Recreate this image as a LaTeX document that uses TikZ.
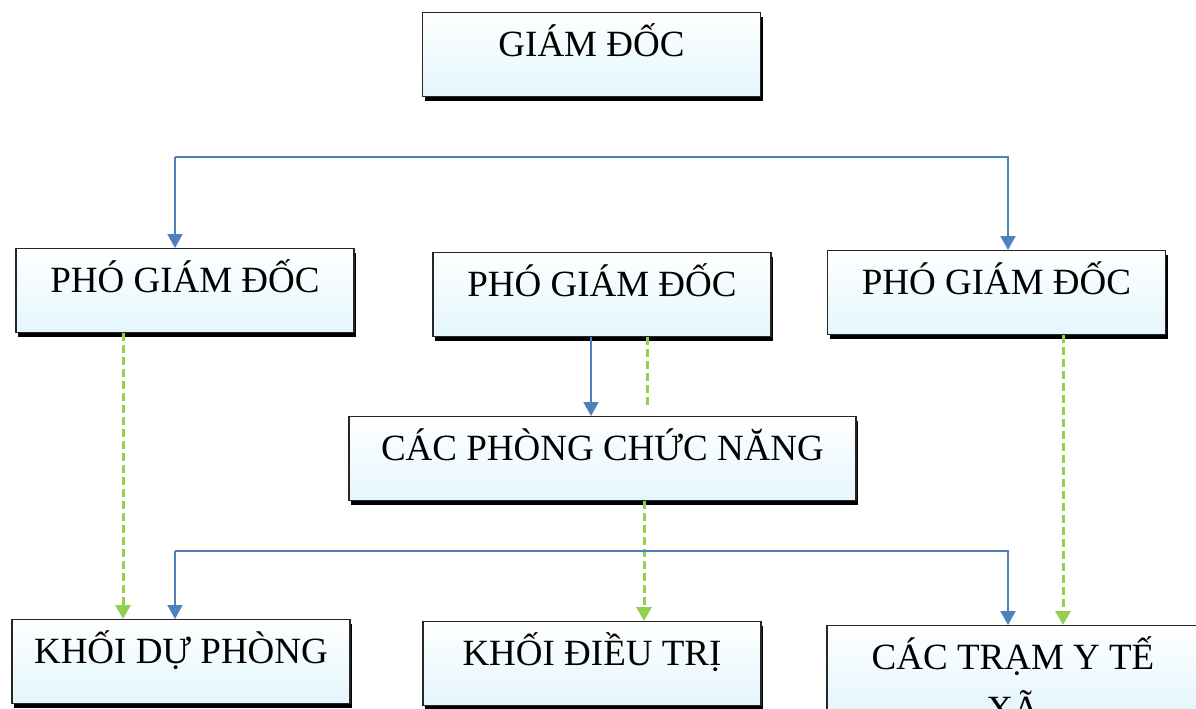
\documentclass[tikz,border=0pt]{standalone}
\usepackage{fontspec}
\setmainfont{Liberation Serif}
\usetikzlibrary{positioning,shadows,arrows.meta}
\definecolor{boxcyan}{RGB}{228,246,253}
\definecolor{linkblue}{RGB}{79,129,189}
\definecolor{linkgreen}{RGB}{146,208,80}

\begin{document}
\begin{tikzpicture}[x=0.5pt, y=-0.5pt,
  every node/.style={font=\fontsize{18.5}{26}\selectfont},
  unit/.style={draw=black!85, line width=0.6pt, top color=white, bottom color=boxcyan,
    drop shadow={shadow xshift=1pt, shadow yshift=-2pt, fill=black, opacity=1},
    minimum width=169pt, inner ysep=0pt, text height=22pt, text depth=20pt, anchor=north},
  solid link/.style={draw=linkblue, line width=1pt, -{Triangle[length=7pt,width=7.5pt]}},
  dashed link/.style={draw=linkgreen, line width=1.5pt, dash pattern=on 4pt off 2pt, -{Triangle[length=7pt,width=7.5pt]}}]
\useasboundingbox (0,0) rectangle (1196,708);
\clip (0,0) rectangle (1196,708);

\node[unit] (gd) at (591.5,12) {GIÁM ĐỐC};
\node[unit] (pgd1) at (185,248) {PHÓ GIÁM ĐỐC};
\node[unit] (pgd2) at (602,252) {PHÓ GIÁM ĐỐC};
\node[unit] (pgd3) at (996.5,250) {PHÓ GIÁM ĐỐC};
\node[unit, minimum width=253.5pt] (cpcn) at (602.5,416) {CÁC PHÒNG CHỨC NĂNG};
\node[unit] (kdp) at (181,619) {KHỐI DỰ PHÒNG};
\node[unit] (kdt) at (592,621) {KHỐI ĐIỀU TRỊ};
\node[unit, minimum width=186pt, text width=170pt, align=flush center] (tram) at (1013,625) {CÁC TRẠM Y TẾ\\ XÃ};

\coordinate (upL) at (175,157);
\coordinate (upR) at (1008,157);
\coordinate (lowL) at (175,551);
\coordinate (lowR) at (1008,551);

\draw[solid link] (upL) -- (upL |- pgd1.north);
\draw[solid link] (upL) -- (upR) -- (upR |- pgd3.north);
\draw[solid link] ([xshift=-5.5pt]pgd2.south) -- ([xshift=-5.5pt]pgd2.south |- cpcn.north);
\draw[dashed link, -, shorten >=4pt] ([xshift=22.5pt]pgd2.south) -- ([xshift=22.5pt]pgd2.south |- cpcn.north);

\draw[dashed link] ([xshift=-31pt]pgd1.south) -- ([xshift=-31pt]pgd1.south |- kdp.north);
\draw[dashed link] ([xshift=20.75pt]cpcn.south) -- ([xshift=20.75pt]cpcn.south |- kdt.north);
\draw[dashed link] ([xshift=33.25pt]pgd3.south) -- ([xshift=33.25pt]pgd3.south |- tram.north);

\draw[solid link] (lowL) -- (lowL |- kdp.north);
\draw[solid link] (lowL) -- (lowR) -- (lowR |- tram.north);
\end{tikzpicture}
\end{document}
